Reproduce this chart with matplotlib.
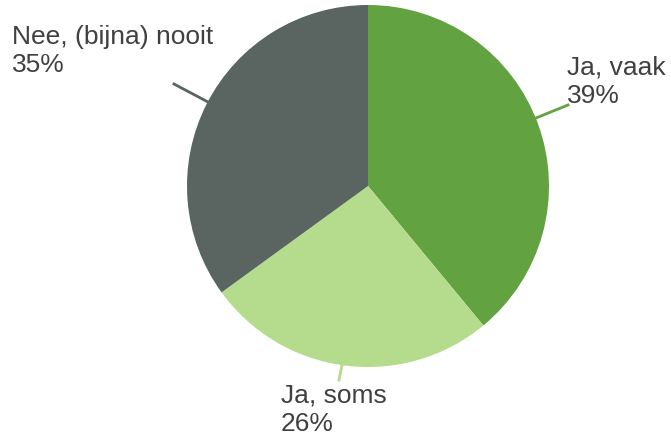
import matplotlib
matplotlib.use("Agg")
import matplotlib.pyplot as plt
import numpy as np

labels = ["Ja, vaak", "Ja, soms", "Nee, (bijna) nooit"]
values = [39, 26, 35]
colors = ["#63A241", "#B4DC8C", "#5A6461"]

plt.rcParams['font.family'] = ['Liberation Sans', 'DejaVu Sans']

W, H = 671, 437
fig = plt.figure(figsize=(W / 100, H / 100), dpi=100)
ax = fig.add_axes([0, 0, 1, 1])
ax.set_xlim(0, W)
ax.set_ylim(H, 0)
ax.set_aspect('equal')
ax.axis('off')

cx, cy, r = 368, 186, 181
wedges, _ = ax.pie(values, colors=colors, startangle=-90, counterclock=True,
                   center=(cx, cy), radius=r, frame=True,
                   wedgeprops=dict(linewidth=0))
ax.set_xlim(0, W)
ax.set_ylim(H, 0)
ax.axis('off')

txt = dict(color="#404040", fontsize=19, va='top', ha='left', linespacing=1.2)

# Ja, vaak
ax.plot([536, 568], [118, 105], color=colors[0], lw=2)
ax.text(567, 56, f"{labels[0]}\n{values[0]}%", **txt)
# Ja, soms
ax.plot([342, 339], [365, 380], color=colors[1], lw=2)
ax.text(281, 384, f"{labels[1]}\n{values[1]}%", **txt)
# Nee
ax.plot([174, 208], [84, 102], color=colors[2], lw=2)
ax.text(12, 25, f"{labels[2]}\n{values[2]}%", **txt)

fig.savefig("out.png", dpi=100)
